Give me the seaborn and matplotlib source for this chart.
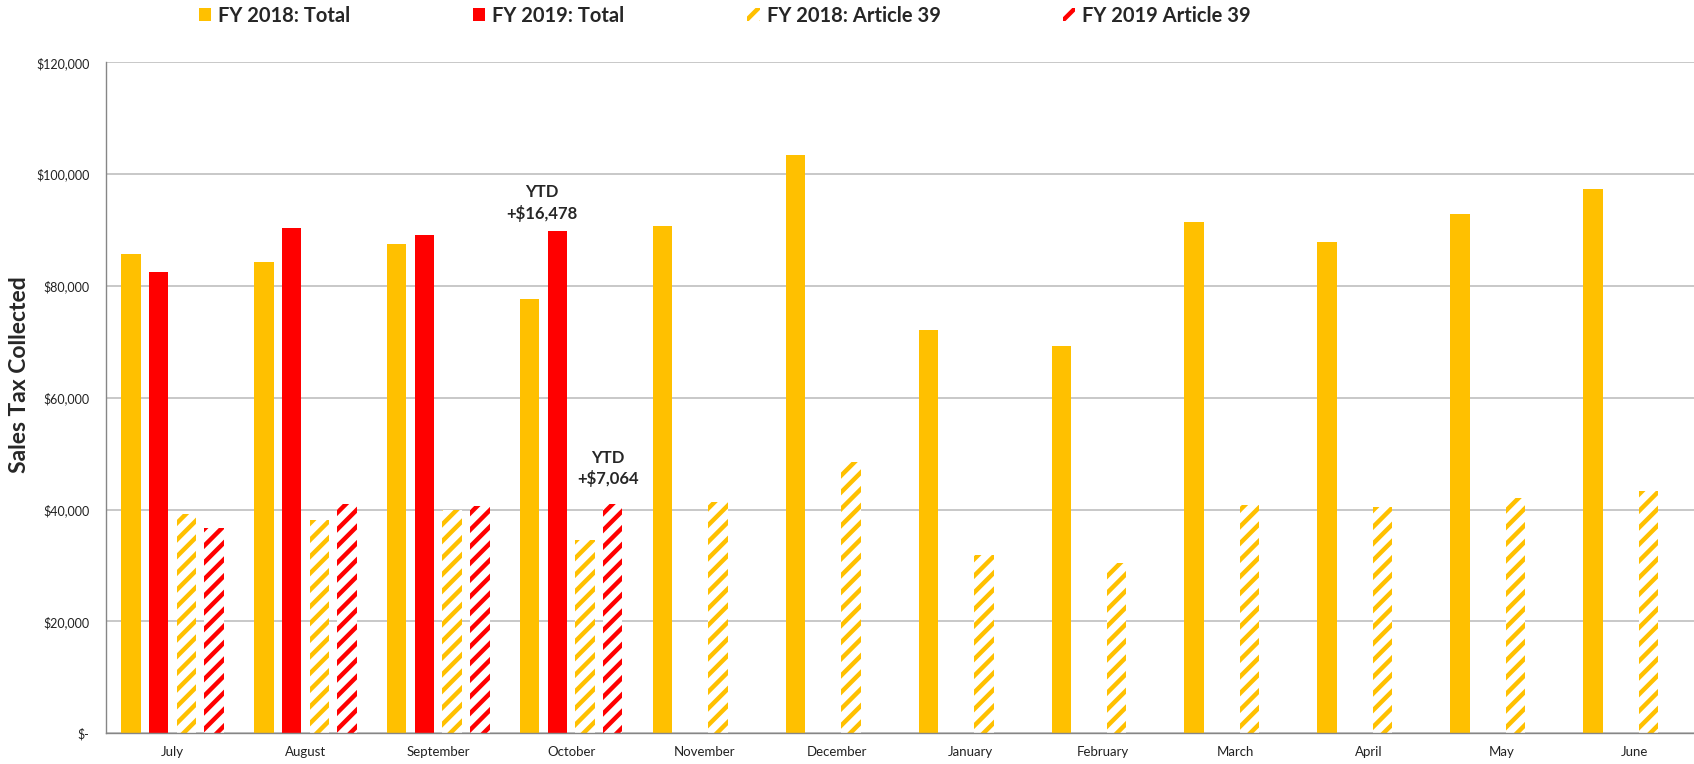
import numpy as np
import pandas as pd
import matplotlib
matplotlib.use("Agg")
import matplotlib.pyplot as plt
from matplotlib.ticker import FuncFormatter, MultipleLocator, FixedLocator
import seaborn as sns

# Data
months = ['July', 'August', 'September', 'October', 'November', 'December',
          'January', 'February', 'March', 'April', 'May', 'June']
fy18_total = [85800, 84300, 87500, 77700, 90700, 103400, 72100, 69300, 91400, 87800, 92900, 97400]
fy19_total = [82500, 90400, 89100, 89800] + [np.nan] * 8
fy18_art39 = [39200, 38200, 40000, 34600, 41300, 48600, 31800, 30400, 40800, 40500, 42000, 43400]
fy19_art39 = [36700, 41000, 40650, 41000] + [np.nan] * 8

series = ['FY 2018: Total', 'FY 2019: Total', 'FY 2018: Article 39', 'FY 2019 Article 39']
colors = ['#FFC000', '#FF0000', '#FFC000', '#FF0000']
hatched = [False, False, True, True]

ytd_labels = ['YTD\n+$16,478', 'YTD\n+$7,064']

# long-form table for seaborn
df = pd.DataFrame({
    'Month': months * 4,
    'Series': np.repeat(series, len(months)),
    'Value': fy18_total + fy19_total + fy18_art39 + fy19_art39,
})

sns.set_style("white")
plt.rcParams['font.family'] = ['Lato', 'DejaVu Sans']
plt.rcParams['hatch.linewidth'] = 3.2

fig = plt.figure(figsize=(16.94, 7.64), dpi=100)
ax = fig.add_axes([0.0626, 0.0402, 0.9415, 0.8783])

sns.barplot(data=df, x='Month', y='Value', hue='Series', order=months,
            hue_order=series, palette=colors, saturation=1, width=0.834, gap=0.30,
            errorbar=None, legend=False, linewidth=0, ax=ax)

# hatched (Article 39) series: white bars with coloured diagonal stripes
for cont, col, h in zip(ax.containers, colors, hatched):
    for p in cont:
        p.set_linewidth(0)
        if h:
            p.set_facecolor('white')
            p.set_edgecolor(col)
            p.set_hatch('//')

# axes styling
ax.set_ylim(0, 120000)
ax.yaxis.set_major_locator(MultipleLocator(20000))
ax.yaxis.set_major_formatter(FuncFormatter(lambda v, _: '$-' if v == 0 else f'${v:,.0f}'))
ax.yaxis.grid(True, color='#BFBFBF', linewidth=1.2)
ax.set_axisbelow(True)
ax.set_xlim(-0.5, 11.5)

for s in ['top', 'right']:
    ax.spines[s].set_visible(False)
for s in ['left', 'bottom']:
    ax.spines[s].set_color('#868686')
    ax.spines[s].set_linewidth(1.0)

ax.tick_params(axis='y', length=4, width=1, color='#868686', labelsize=9, pad=8, labelcolor='#222222')
ax.tick_params(axis='x', which='major', length=0, labelsize=9.5, pad=9, labelcolor='#222222')
ax.xaxis.set_minor_locator(FixedLocator(np.arange(-0.5, 12, 1)))
ax.tick_params(axis='x', which='minor', length=3, width=1, color='#868686')

ax.set_xlabel('')
ax.set_ylabel('Sales Tax Collected', fontsize=16.5, fontweight='bold', va='center')
ax.yaxis.set_label_coords(-0.0545, 0.535)

# YTD annotations
ax.text(2.78, 94800, ytd_labels[0], ha='center', va='center', fontsize=12,
        fontweight='bold', linespacing=1.35)
ax.text(3.277, 47360, ytd_labels[1], ha='center', va='center', fontsize=12,
        fontweight='bold', linespacing=1.35)

# legend along the top
fig.legend(ax.containers, series, loc='center left', bbox_to_anchor=(199 / 1694, 0.9797),
           ncol=4, frameon=False, borderpad=0, borderaxespad=0,
           handlelength=0.6, handleheight=0.65, handletextpad=0.35, columnspacing=6.1,
           prop={'size': 14.5, 'weight': 'bold'})

fig.savefig('out.png', dpi=100)
